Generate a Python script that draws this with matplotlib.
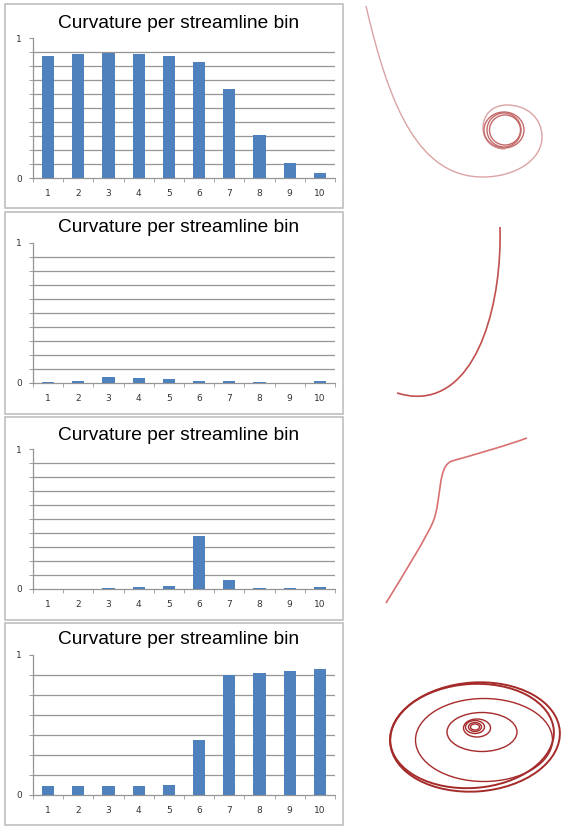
import matplotlib
matplotlib.use("Agg")
import matplotlib.pyplot as plt
from matplotlib.path import Path
from matplotlib.patches import PathPatch, Rectangle, Ellipse

# curvature per bin, one list per streamline
bins = ["1", "2", "3", "4", "5", "6", "7", "8", "9", "10"]
curv_a = [0.871, 0.883, 0.893, 0.888, 0.871, 0.831, 0.633, 0.305, 0.110, 0.033]
curv_b = [0.007, 0.012, 0.043, 0.033, 0.029, 0.017, 0.012, 0.007, 0.0, 0.012]
curv_c = [0.0, 0.0, 0.007, 0.017, 0.024, 0.376, 0.064, 0.007, 0.007, 0.012]
curv_d = [0.067, 0.067, 0.067, 0.067, 0.071, 0.393, 0.857, 0.871, 0.886, 0.900]
grid_steps = [10, 10, 10, 7]

# streamline sketches (pixel coords, cubic bezier control points)
line_a = [(366, 6), (390, 110), (420, 177), (483, 177),
          (515, 177), (542, 160), (542, 137),
          (542, 118), (527, 105), (507, 105),
          (492, 105), (483, 115), (483, 128),
          (483, 140), (492, 149), (505, 149)]
rings_a = [(504, 130, 40, 36), (504, 130, 34, 34), (505, 130, 31, 30)]
line_b = [(500, 227), (502, 300), (480, 390), (423, 396),
          (410, 397), (405, 395), (397, 393)]
line_c = [(386, 603), (405, 572), (425, 540), (433, 522),
          (442, 500), (437, 466), (452, 461),
          (480, 453), (505, 446), (527, 438)]
rings_d = [(475, 737, 170, 109), (472, 736, 164, 104), (484, 740, 137, 83),
           (482, 732, 70, 39), (477, 728, 27, 18), (475, 727, 19, 13),
           (475, 727, 13, 9), (475, 727, 9, 6)]

W, H = 561, 827
fig = plt.figure(figsize=(W / 100, H / 100), dpi=100)
bg = fig.add_axes([0, 0, 1, 1])
bg.set_xlim(0, W)
bg.set_ylim(H, 0)
bg.axis("off")

BLUE = "#4f81bd"
GRID = "#959595"

boxes = [(5, 4, 338, 204), (5, 212, 338, 202), (5, 417, 338, 203), (5, 623, 338, 202)]
plot_y = [(38, 178), (243, 383), (449, 589), (655, 795)]
title_y = [23, 228, 435, 640]
series = [curv_a, curv_b, curv_c, curv_d]

for box, (ytop, ybot), ty, vals, nsteps in zip(boxes, plot_y, title_y, series, grid_steps):
    bx, by, bw, bh = box
    bg.add_patch(Rectangle((bx, by), bw, bh, fill=False, edgecolor="#bfbfbf", lw=1.2))
    bg.text(179, ty, "Curvature per streamline bin", ha="center", va="center",
            fontsize=13.8, family="Liberation Sans", color="black")

    ax = fig.add_axes([33 / W, 1 - ybot / H, 302 / W, (ybot - ytop) / H])
    x = range(len(bins))
    ax.bar(x, vals, width=0.4, color=BLUE, zorder=3)
    ax.set_xlim(-0.5, len(bins) - 0.5)
    ax.set_ylim(0, 1)
    for k in range(1, nsteps):
        ax.axhline(k / nsteps, color=GRID, lw=0.9, zorder=1)
    for s in ["top", "right"]:
        ax.spines[s].set_visible(False)
    for s in ["left", "bottom"]:
        ax.spines[s].set_color(GRID)
        ax.spines[s].set_linewidth(0.9)
    ax.set_yticks([0, 1])
    ax.set_yticklabels(["0", "1"])
    ax.set_yticks([k / nsteps for k in range(1, nsteps)], minor=True)
    ax.tick_params(axis="y", which="both", length=3, color=GRID, labelsize=6.5,
                   labelcolor="#333333", pad=5)
    ax.set_xticks([i + 0.5 for i in range(-1, len(bins))], minor=True)
    ax.set_xticks(list(x))
    ax.set_xticklabels(bins)
    ax.tick_params(axis="x", which="major", length=0, labelsize=6.5,
                   labelcolor="#333333", pad=8)
    ax.tick_params(axis="x", which="minor", length=3, color=GRID)
    ax.set_facecolor("none")


def bezier(pts, color, lw):
    codes = [Path.MOVETO] + [Path.CURVE4] * (len(pts) - 1)
    bg.add_patch(PathPatch(Path(pts, codes), fill=False, edgecolor=color, lw=lw))


bezier(line_a, "#dba3a3", 1.0)
for cx, cy, w, h in rings_a:
    bg.add_patch(Ellipse((cx, cy), w, h, fill=False, edgecolor="#c46a6a", lw=1.0))
bezier(line_b, "#c0504d", 1.2)
bezier(line_c, "#d87070", 1.2)
for i, (cx, cy, w, h) in enumerate(rings_d):
    bg.add_patch(Ellipse((cx, cy), w, h, angle=-4 if i < 2 else 0, fill=False,
                         edgecolor="#a52a2a", lw=1.4 if i < 2 else 1.0))

fig.savefig("out.png", dpi=100)
